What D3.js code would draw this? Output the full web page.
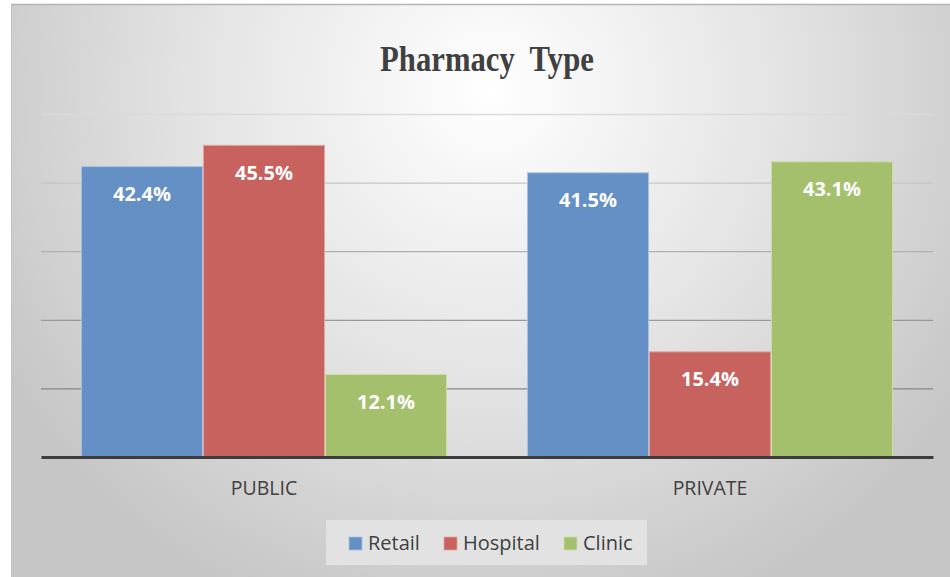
<!DOCTYPE html>
<html>
<head>
<meta charset="utf-8">
<script src="https://cdn.jsdelivr.net/npm/d3@7"></script>
<style>
  html, body { margin: 0; padding: 0; background: #ffffff; }
  svg { display: block; }
</style>
</head>
<body>
<div class="PharmacyChart"></div>
<script>
// chart data
const categories = ["PUBLIC", "PRIVATE"];
const seriesNames = ["Retail", "Hospital", "Clinic"];
const retailValues = [42.4, 41.5];
const hospitalValues = [45.5, 15.4];
const clinicValues = [12.1, 43.1];
const gridTicks = [10, 20, 30, 40, 50];

const seriesValues = [retailValues, hospitalValues, clinicValues];
const fills = ["#6490c5", "#c7625f", "#a4c06c"];
const strokes = ["#a6c0e3", "#e3a3a1", "#cbdca6"];

const width = 950, height = 577;
const plot = {left: 41, right: 933, top: 114, bottom: 457};

const svg = d3.select(".PharmacyChart")
  .append("svg")
  .attr("width", width)
  .attr("height", height);

// background gradient
const defs = svg.append("defs");
const bg = defs.append("radialGradient")
  .attr("id", "bg")
  .attr("gradientUnits", "userSpaceOnUse")
  .attr("cx", 490).attr("cy", 90).attr("r", 560);
bg.append("stop").attr("offset", "0%").attr("stop-color", "#ffffff");
bg.append("stop").attr("offset", "55%").attr("stop-color", "#e2e2e2");
bg.append("stop").attr("offset", "100%").attr("stop-color", "#c6c6c6");

svg.append("rect")
  .attr("x", 11).attr("y", 4)
  .attr("width", width).attr("height", height)
  .attr("fill", "url(#bg)");
svg.append("line")
  .attr("x1", 11).attr("x2", width)
  .attr("y1", 4.5).attr("y2", 4.5)
  .attr("stroke", "#b4b4b4").attr("stroke-width", 1.5);
svg.append("line")
  .attr("x1", 11.5).attr("x2", 11.5)
  .attr("y1", 4).attr("y2", height)
  .attr("stroke", "#c4c4c4").attr("stroke-width", 1);

// title (narrow bold serif, stretched a bit vertically)
svg.append("text")
  .attr("transform", "translate(487,71) scale(0.96,1.1)")
  .attr("text-anchor", "middle")
  .style("font-family", "'Liberation Serif', 'DejaVu Serif', serif")
  .style("font-weight", "bold")
  .style("font-size", "32px")
  .attr("fill", "#404040")
  .text("Pharmacy  Type")
  .attr("xml:space", "preserve")
  .style("white-space", "pre");

// scales
const x0 = d3.scaleBand()
  .domain(categories)
  .range([plot.left, plot.right])
  .paddingInner(0).paddingOuter(0);

const x1 = d3.scaleBand()
  .domain(seriesNames)
  .range([0, x0.bandwidth()])
  .paddingInner(0)
  .paddingOuter(0.328);

const y = d3.scaleLinear()
  .domain([0, 50])
  .range([plot.bottom, plot.top]);

// gridlines
const gridColor = d3.scaleLinear()
  .domain([50, 10])
  .range(["#dadada", "#858585"]);

const grid = svg.append("g")
  .attr("transform", "translate(" + plot.left + ",0)")
  .call(d3.axisLeft(y).tickValues(gridTicks).tickSize(-(plot.right - plot.left)).tickFormat(""));
grid.select(".domain").remove();
grid.selectAll(".tick line")
  .attr("stroke", d => gridColor(d))
  .attr("stroke-width", 1.3);

// bars
const groups = svg.append("g")
  .selectAll("g")
  .data(categories)
  .join("g")
  .attr("transform", d => "translate(" + x0(d) + ",0)");

groups.each(function(cat, ci) {
  const g = d3.select(this);
  const rows = seriesNames.map((s, si) => ({series: s, si: si, value: seriesValues[si][ci]}));

  g.selectAll("rect")
    .data(rows)
    .join("rect")
    .attr("x", d => x1(d.series) + 0.5)
    .attr("y", d => y(d.value) + 0.5)
    .attr("width", x1.bandwidth() - 1)
    .attr("height", d => y(0) - y(d.value) - 0.5)
    .attr("fill", d => fills[d.si])
    .attr("stroke", d => strokes[d.si])
    .attr("stroke-width", 1);

  g.selectAll("text")
    .data(rows)
    .join("text")
    .attr("x", d => x1(d.series) + x1.bandwidth() / 2)
    .attr("y", d => y(d.value) + 35)
    .attr("text-anchor", "middle")
    .style("font-family", "'Open Sans', 'Liberation Sans', sans-serif")
    .style("font-weight", "bold")
    .style("font-size", "20px")
    .attr("fill", "#ffffff")
    .text(d => d.value.toFixed(1) + "%");
});

// x axis
const xAxis = svg.append("g")
  .attr("transform", "translate(0," + plot.bottom + ")")
  .call(d3.axisBottom(x0).tickSize(0).tickPadding(24));
xAxis.select(".domain")
  .attr("stroke", "#3c3c3c")
  .attr("stroke-width", 3);
xAxis.selectAll("text")
  .style("font-family", "'Open Sans', 'Liberation Sans', sans-serif")
  .style("font-size", "19.5px")
  .attr("fill", "#404040");

// legend
const legend = svg.append("g");
legend.append("rect")
  .attr("x", 326).attr("y", 520)
  .attr("width", 321).attr("height", 45)
  .attr("fill", "#e2e2e2");

const legendX = [349, 444, 564];
const items = legend.selectAll("g.item")
  .data(seriesNames)
  .join("g")
  .attr("class", "item")
  .attr("transform", (d, i) => "translate(" + legendX[i] + ",537)");
items.append("rect")
  .attr("width", 13).attr("height", 13)
  .attr("fill", (d, i) => fills[i])
  .attr("stroke", (d, i) => strokes[i])
  .attr("stroke-width", 0.8);
items.append("text")
  .attr("x", 19).attr("y", 13)
  .style("font-family", "'Open Sans', 'Liberation Sans', sans-serif")
  .style("font-size", "20px")
  .attr("fill", "#404040")
  .text(d => d);
</script>
</body>
</html>
